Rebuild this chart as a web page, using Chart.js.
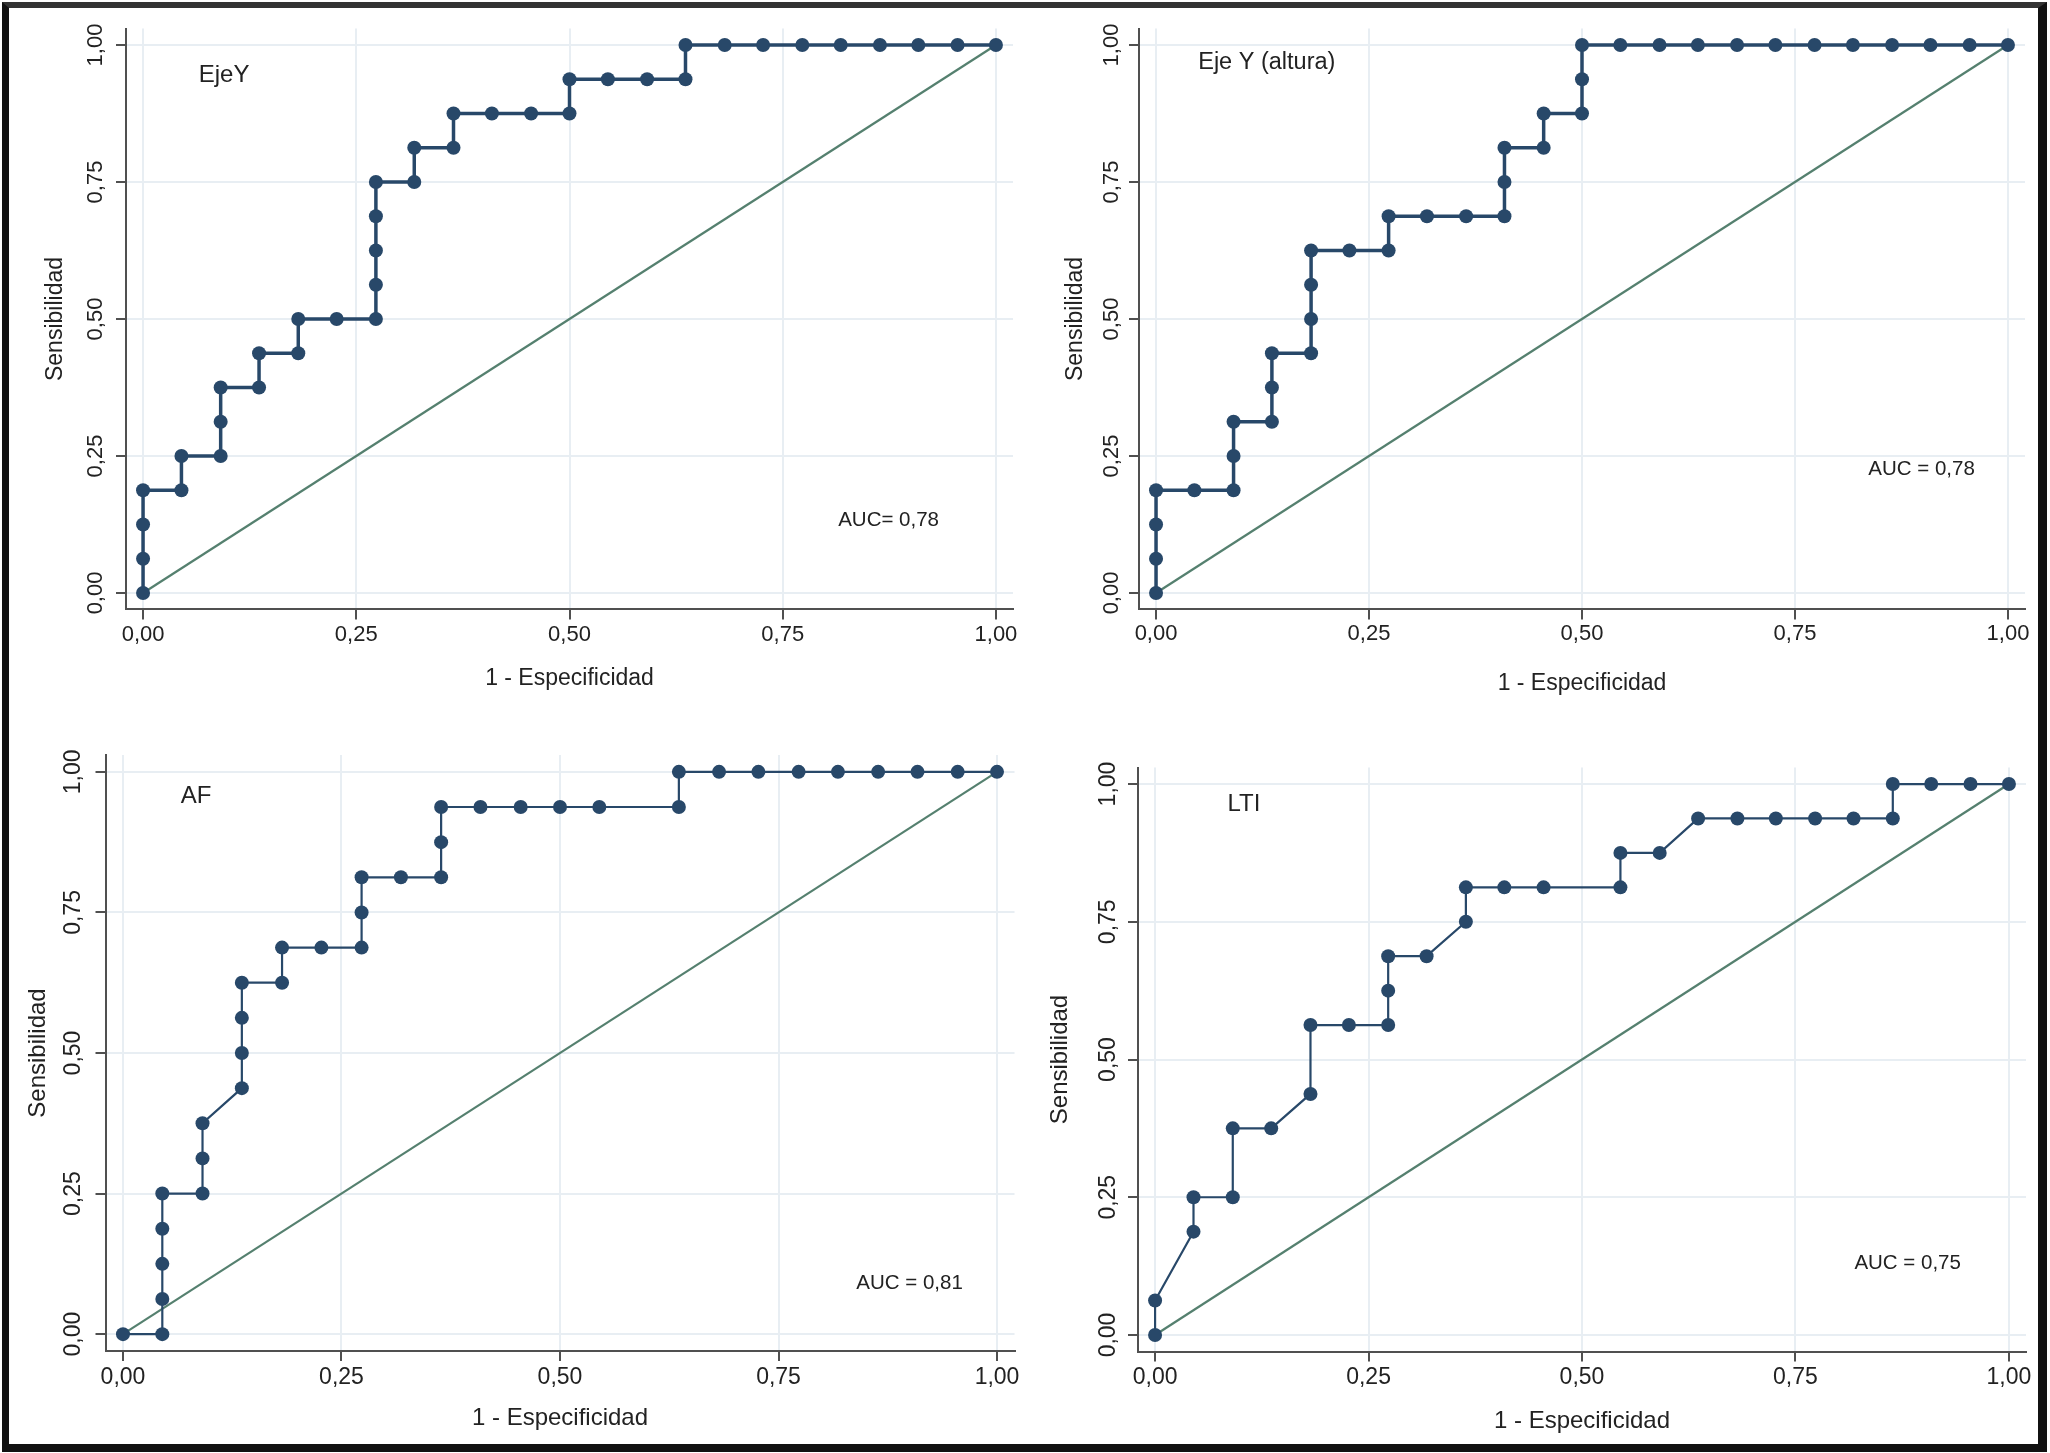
<!DOCTYPE html>
<html>
<head>
<meta charset="utf-8">
<script src="https://cdn.jsdelivr.net/npm/chart.js@4.4.1/dist/chart.umd.min.js"></script>
<style>
  html, body { margin: 0; padding: 0; background: #fff; }
  body { width: 2050px; height: 1453px; position: relative; overflow: hidden; }
  #frame {
    position: absolute; left: 2px; top: 2px; width: 2045px; height: 1450px; box-sizing: border-box;
    border-left: 7px solid #111; border-top: 6px solid #333; border-right: 9px solid #111; border-bottom: 8px solid #111;
  }
  .panel { position: absolute; }
</style>
</head>
<body>
<div id="frame"></div>
<div class="panel" id="p1"><canvas id="c1"></canvas></div>
<div class="panel" id="p2"><canvas id="c2"></canvas></div>
<div class="panel" id="p3"><canvas id="c3"></canvas></div>
<div class="panel" id="p4"><canvas id="c4"></canvas></div>
<script>
  // ROC points (1 - especificidad, sensibilidad)
  const ejeYX = [0, 0, 0, 0, 0.045, 0.045, 0.091, 0.091, 0.091, 0.136, 0.136, 0.182, 0.182, 0.227, 0.273, 0.273, 0.273, 0.273, 0.273, 0.318, 0.318, 0.364, 0.364, 0.409, 0.455, 0.5, 0.5, 0.545, 0.591, 0.636, 0.636, 0.682, 0.727, 0.773, 0.818, 0.864, 0.909, 0.955, 1];
  const ejeYY = [0, 0.0625, 0.125, 0.1875, 0.1875, 0.25, 0.25, 0.3125, 0.375, 0.375, 0.4375, 0.4375, 0.5, 0.5, 0.5, 0.5625, 0.625, 0.6875, 0.75, 0.75, 0.8125, 0.8125, 0.875, 0.875, 0.875, 0.875, 0.9375, 0.9375, 0.9375, 0.9375, 1, 1, 1, 1, 1, 1, 1, 1, 1];

  const alturaX = [0, 0, 0, 0, 0.045, 0.091, 0.091, 0.091, 0.136, 0.136, 0.136, 0.182, 0.182, 0.182, 0.182, 0.227, 0.273, 0.273, 0.318, 0.364, 0.409, 0.409, 0.409, 0.455, 0.455, 0.5, 0.5, 0.5, 0.545, 0.591, 0.636, 0.682, 0.727, 0.773, 0.818, 0.864, 0.909, 0.955, 1];
  const alturaY = [0, 0.0625, 0.125, 0.1875, 0.1875, 0.1875, 0.25, 0.3125, 0.3125, 0.375, 0.4375, 0.4375, 0.5, 0.5625, 0.625, 0.625, 0.625, 0.6875, 0.6875, 0.6875, 0.6875, 0.75, 0.8125, 0.8125, 0.875, 0.875, 0.9375, 1, 1, 1, 1, 1, 1, 1, 1, 1, 1, 1, 1];

  const afX = [0, 0.045, 0.045, 0.045, 0.045, 0.045, 0.091, 0.091, 0.091, 0.136, 0.136, 0.136, 0.136, 0.182, 0.182, 0.227, 0.273, 0.273, 0.273, 0.318, 0.364, 0.364, 0.364, 0.409, 0.455, 0.5, 0.545, 0.636, 0.636, 0.682, 0.727, 0.773, 0.818, 0.864, 0.909, 0.955, 1];
  const afY = [0, 0, 0.0625, 0.125, 0.1875, 0.25, 0.25, 0.3125, 0.375, 0.4375, 0.5, 0.5625, 0.625, 0.625, 0.6875, 0.6875, 0.6875, 0.75, 0.8125, 0.8125, 0.8125, 0.875, 0.9375, 0.9375, 0.9375, 0.9375, 0.9375, 0.9375, 1, 1, 1, 1, 1, 1, 1, 1, 1];

  const ltiX = [0, 0, 0.045, 0.045, 0.091, 0.091, 0.136, 0.182, 0.182, 0.227, 0.273, 0.273, 0.273, 0.318, 0.364, 0.364, 0.409, 0.455, 0.545, 0.545, 0.591, 0.636, 0.682, 0.727, 0.773, 0.818, 0.864, 0.864, 0.909, 0.955, 1];
  const ltiY = [0, 0.0625, 0.1875, 0.25, 0.25, 0.375, 0.375, 0.4375, 0.5625, 0.5625, 0.5625, 0.625, 0.6875, 0.6875, 0.75, 0.8125, 0.8125, 0.8125, 0.8125, 0.875, 0.875, 0.9375, 0.9375, 0.9375, 0.9375, 0.9375, 0.9375, 1, 1, 1, 1];

  const refX = [0, 1];
  const refY = [0, 1];
  const tickValues = [0, 0.25, 0.5, 0.75, 1];
  const xTitle = '1 - Especificidad';
  const yTitle = 'Sensibilidad';

  const NAVY = '#284869';
  const REF = '#55806f';
  const GRID = '#e8eef3';
  const AXIS = '#505050';
  const TEXT = '#222';
  const FONT = '"Liberation Sans", Arial, sans-serif';

  // box = canvas [left, top, width, height] on page; area = plot area [l, t, r, b] on page
  const panels = [
    { id: 'p1', canvas: 'c1', xs: ejeYX, ys: ejeYY, box: [10, 10, 1015, 700], area: [126, 28.6, 1013, 609.4],
      yTitleX: 56, xTitleY: 678.6, yLabelX: 95.5, xLabelY: 635, tickFont: 22, titleFont: 23, lineW: 3.5,
      notes: [{ text: 'EjeY', x: 0.095, y: 0.945, size: 24, align: 'center' },
              { text: 'AUC= 0,78', x: 0.815, y: 0.133, size: 20.5, align: 'left' }] },
    { id: 'p2', canvas: 'c2', xs: alturaX, ys: alturaY, box: [1027, 10, 1010, 700], area: [1139, 28.6, 2025, 609.4],
      yTitleX: 1076, xTitleY: 684, yLabelX: 1112, xLabelY: 634, tickFont: 22, titleFont: 23, lineW: 3.5,
      notes: [{ text: 'Eje Y (altura)', x: 0.13, y: 0.968, size: 23.5, align: 'center' },
              { text: 'AUC = 0,78', x: 0.836, y: 0.226, size: 20.5, align: 'left' }] },
    { id: 'p3', canvas: 'c3', xs: afX, ys: afY, box: [10, 712, 1015, 728], area: [105.5, 755, 1014.5, 1351],
      yTitleX: 38, xTitleY: 1418.5, yLabelX: 74, xLabelY: 1378, tickFont: 23, titleFont: 24, lineW: 2.2,
      notes: [{ text: 'AF', x: 0.0835, y: 0.957, size: 24, align: 'center' },
              { text: 'AUC = 0,81', x: 0.839, y: 0.091, size: 20.5, align: 'left' }] },
    { id: 'p4', canvas: 'c4', xs: ltiX, ys: ltiY, box: [1027, 712, 1010, 728], area: [1138, 767.5, 2026, 1351.5],
      yTitleX: 1060, xTitleY: 1421, yLabelX: 1109, xLabelY: 1378, tickFont: 23, titleFont: 24, lineW: 2.2,
      notes: [{ text: 'LTI', x: 0.104, y: 0.963, size: 24, align: 'center' },
              { text: 'AUC = 0,75', x: 0.819, y: 0.13, size: 20.5, align: 'left' }] }
  ];

  const notesPlugin = {
    id: 'notes',
    afterDatasetsDraw(chart, args, opts) {
      const ctx = chart.ctx;
      const sx = chart.scales.x, sy = chart.scales.y;
      ctx.save();
      ctx.fillStyle = TEXT;
      ctx.textBaseline = 'middle';
      (opts.items || []).forEach(n => {
        ctx.font = n.size + 'px ' + FONT;
        ctx.textAlign = n.align;
        ctx.fillText(n.text, sx.getPixelForValue(n.x), sy.getPixelForValue(n.y));
      });
      ctx.restore();
    }
  };

  const fmt = v => v.toFixed(2).replace('.', ',');
  const TICK_LEN = 10;

  panels.forEach(p => {
    const [bl, bt, bw, bh] = p.box;
    const [al, at, ar, ab] = p.area;
    const div = document.getElementById(p.id);
    div.style.left = bl + 'px';
    div.style.top = bt + 'px';
    div.style.width = bw + 'px';
    div.style.height = bh + 'px';

    const titleLH = p.titleFont * 1.2;
    const tickLH = p.tickFont * 1.2;
    const widest = p.tickFont * 1.946;  // width of "0,00"

    new Chart(document.getElementById(p.canvas), {
      type: 'scatter',
      data: {
        datasets: [
          {
            data: refX.map((x, i) => ({ x, y: refY[i] })),
            showLine: true, borderColor: REF, borderWidth: 2.2, pointRadius: 0, order: 2
          },
          {
            data: p.xs.map((x, i) => ({ x, y: p.ys[i] })),
            showLine: true, borderColor: NAVY, borderWidth: p.lineW,
            pointRadius: 7, pointBackgroundColor: NAVY, pointBorderWidth: 0, pointStyle: 'circle', order: 1
          }
        ]
      },
      options: {
        responsive: true,
        maintainAspectRatio: false,
        animation: false,
        devicePixelRatio: 1,
        layout: { padding: { left: 0, top: at - bt, right: (bl + bw) - ar, bottom: 0 } },
        plugins: { legend: { display: false }, tooltip: { enabled: false }, notes: { items: p.notes } },
        scales: {
          x: {
            type: 'linear', min: -0.02, max: 1.02,
            afterBuildTicks: s => { s.ticks = tickValues.map(v => ({ value: v })); },
            afterFit: s => { s.height = (bt + bh) - ab; },
            grid: { color: GRID, lineWidth: 2, tickColor: AXIS, tickWidth: 2, tickLength: TICK_LEN },
            border: { display: true, color: AXIS, width: 2 },
            ticks: { callback: fmt, color: TEXT, font: { family: FONT, size: p.tickFont },
                     padding: (p.xLabelY - ab) - TICK_LEN - tickLH / 2, maxRotation: 0, minRotation: 0 },
            title: { display: true, text: xTitle, color: TEXT, font: { family: FONT, size: p.titleFont },
                     padding: { top: 0, bottom: (bt + bh) - p.xTitleY - titleLH / 2 } }
          },
          y: {
            type: 'linear', min: -0.03, max: 1.03,
            afterBuildTicks: s => { s.ticks = tickValues.map(v => ({ value: v })); },
            afterFit: s => { s.width = al - bl; },
            grid: { color: GRID, lineWidth: 2, tickColor: AXIS, tickWidth: 2, tickLength: TICK_LEN },
            border: { display: true, color: AXIS, width: 2 },
            ticks: { callback: fmt, color: TEXT, font: { family: FONT, size: p.tickFont },
                     crossAlign: 'center', minRotation: 90, maxRotation: 90,
                     padding: (al - p.yLabelX) - TICK_LEN - widest / 2 },
            title: { display: true, text: yTitle, color: TEXT, font: { family: FONT, size: p.titleFont },
                     padding: { top: (p.yTitleX - bl) - titleLH / 2, bottom: 0 } }
          }
        }
      },
      plugins: [notesPlugin]
    });
  });
</script>
</body>
</html>
